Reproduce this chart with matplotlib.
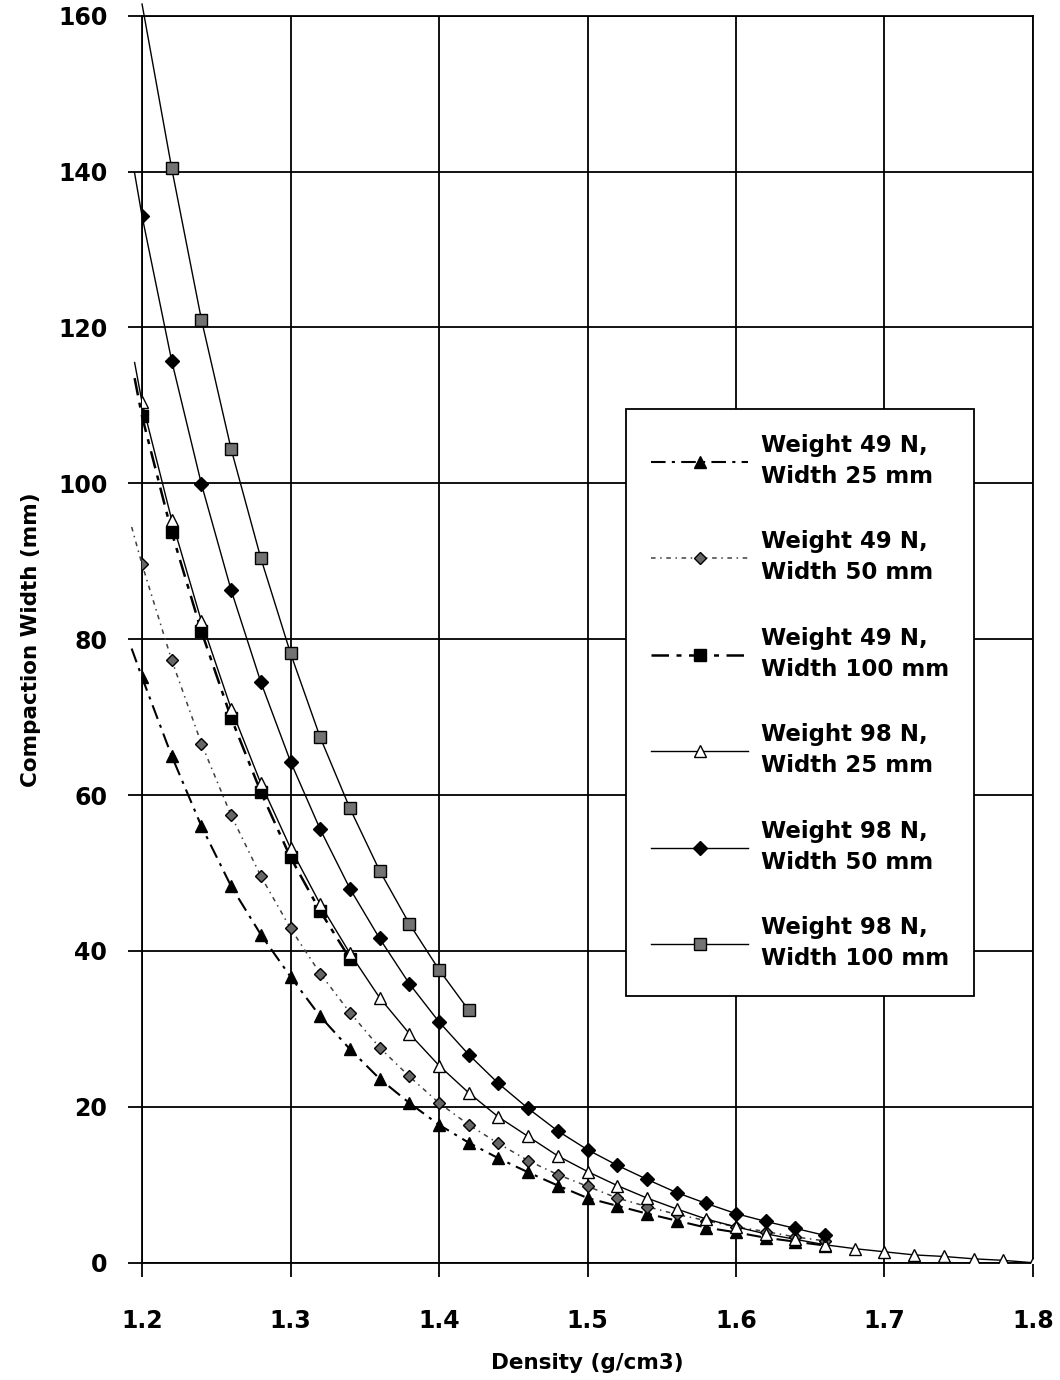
import numpy as np
import matplotlib
matplotlib.use('Agg')
import matplotlib.pyplot as plt

# Densidad (g/cm3) en pasos de 0.02
dens_a = np.round(np.arange(1.20, 1.661, 0.02), 2)   # 1.20 .. 1.66
dens_b = np.round(np.arange(1.20, 1.801, 0.02), 2)   # 1.20 .. 1.80
dens_c = np.round(np.arange(1.20, 1.341, 0.02), 2)   # 1.20 .. 1.34
dens_d = np.round(np.arange(1.22, 1.421, 0.02), 2)   # 1.22 .. 1.42

# Ancho de compactacion (mm)
w49_25 = [75.1, 65.0, 56.0, 48.3, 42.1, 36.7, 31.6, 27.4, 23.6, 20.5, 17.7, 15.4,
          13.4, 11.6, 9.9, 8.3, 7.3, 6.3, 5.4, 4.5, 3.9, 3.2, 2.7, 2.2]
w49_50 = [89.6, 77.3, 66.6, 57.4, 49.6, 42.9, 37.1, 32.1, 27.6, 23.9, 20.5, 17.7,
          15.3, 13.1, 11.3, 9.8, 8.3, 7.2, 6.2, 5.4, 4.6, 4.0, 3.3, 2.8]
w49_100 = [108.6, 93.7, 81.0, 69.9, 60.4, 52.0, 45.1, 39.0]
w98_25 = [110.4, 95.3, 82.3, 71.1, 61.5, 53.2, 46.0, 39.7, 34.0, 29.4, 25.3, 21.8,
          18.7, 16.2, 13.7, 11.7, 9.9, 8.3, 6.9, 5.6, 4.6, 3.7, 3.0, 2.3, 1.8,
          1.4, 1.0, 0.8, 0.5, 0.3, 0.0]
w98_50 = [134.3, 115.7, 99.9, 86.3, 74.5, 64.3, 55.6, 48.0, 41.6, 35.8, 30.9, 26.7,
          23.0, 19.8, 16.9, 14.5, 12.5, 10.7, 9.0, 7.6, 6.3, 5.3, 4.4, 3.5]
w98_100 = [140.4, 121.0, 104.4, 90.4, 78.2, 67.4, 58.3, 50.3, 43.5, 37.6, 32.4]

# Inicio de cada curva (la linea empieza un poco antes del primer marcador)
inicio_x = [1.193, 1.193, 1.195, 1.195, 1.195, 1.200]
inicio_y = [78.8, 94.4, 113.5, 115.5, 139.8, 161.5]

etiquetas = ['Weight 49 N,\nWidth 25 mm', 'Weight 49 N,\nWidth 50 mm',
             'Weight 49 N,\nWidth 100 mm', 'Weight 98 N,\nWidth 25 mm',
             'Weight 98 N,\nWidth 50 mm', 'Weight 98 N,\nWidth 100 mm']

series = [(dens_a, w49_25), (dens_a, w49_50), (dens_c, w49_100),
          (dens_b, w98_25), (dens_a, w98_50), (dens_d, w98_100)]

# Estilos: (color linea, ancho, guiones, marcador, tamano, relleno)
estilos = [
    ('black', 1.5, (7, 3, 1.5, 3), '^', 9, 'black'),
    ('0.25', 1.1, (3, 3, 1, 3), 'D', 6.5, '0.4'),
    ('black', 1.8, (7, 3, 2, 3), 's', 8.5, 'black'),
    ('black', 1.0, None, '^', 9, 'white'),
    ('black', 1.0, None, 'D', 7, 'black'),
    ('black', 1.0, None, 's', 9, '0.45'),
]

plt.rcParams['font.family'] = ['DejaVu Sans']
fig = plt.figure(figsize=(10.6, 13.8), dpi=100)
ax = fig.add_axes([0.134, 0.085, 0.8405, 0.9036])

for i, ((xs, ys), est) in enumerate(zip(series, estilos)):
    color, lw, dashes, mk, ms, fc = est
    lx = [inicio_x[i]] + list(xs)
    ly = [inicio_y[i]] + list(ys)
    linea, = ax.plot(lx, ly, color=color, lw=lw, clip_on=False, zorder=3)
    if dashes is not None:
        linea.set_dashes(dashes)
    ax.plot(xs, ys, linestyle='none', marker=mk, markersize=ms,
            markerfacecolor=fc, markeredgecolor='black', markeredgewidth=1.0,
            zorder=4)
    # entrada de leyenda con linea + marcador
    h, = ax.plot([], [], color=color, lw=lw, marker=mk, markersize=ms,
                 markerfacecolor=fc, markeredgecolor='black', markeredgewidth=1.0,
                 label=etiquetas[i])
    if dashes is not None:
        h.set_dashes(dashes)

ax.set_xlim(1.2, 1.8)
ax.set_ylim(0, 160)
ax.set_xticks([1.2, 1.3, 1.4, 1.5, 1.6, 1.7, 1.8])
ax.set_xticklabels(['1.2', '1.3', '1.4', '1.5', '1.6', '1.7', '1.8'])
ax.set_yticks(range(0, 161, 20))
ax.grid(True, color='black', lw=1.3)
ax.set_axisbelow(True)
for s in ax.spines.values():
    s.set_color('black')
    s.set_linewidth(1.3)
ax.tick_params(axis='both', direction='out', length=10, width=1.3,
               labelsize=17)
ax.tick_params(axis='x', pad=23)
ax.tick_params(axis='y', pad=15)
for t in ax.get_xticklabels() + ax.get_yticklabels():
    t.set_fontweight('bold')

ax.set_xlabel('Density (g/cm3)', fontsize=15.5, fontweight='bold', labelpad=15)
ax.set_ylabel('Compaction Width (mm)', fontsize=15.5, fontweight='bold', labelpad=12)

leg = ax.legend(loc='upper left', bbox_to_anchor=(0.543, 0.685),
                prop={'size': 16.5, 'weight': 'bold'},
                frameon=True, fancybox=False, framealpha=1, edgecolor='black',
                handlelength=4.25, handletextpad=0.55, labelspacing=1.85,
                borderpad=1.1, numpoints=1, borderaxespad=0)
for t in leg.get_texts():
    t.set_linespacing(1.45)
leg.get_frame().set_linewidth(1.3)
leg.set_zorder(5)

plt.savefig('out.png', dpi=100)
